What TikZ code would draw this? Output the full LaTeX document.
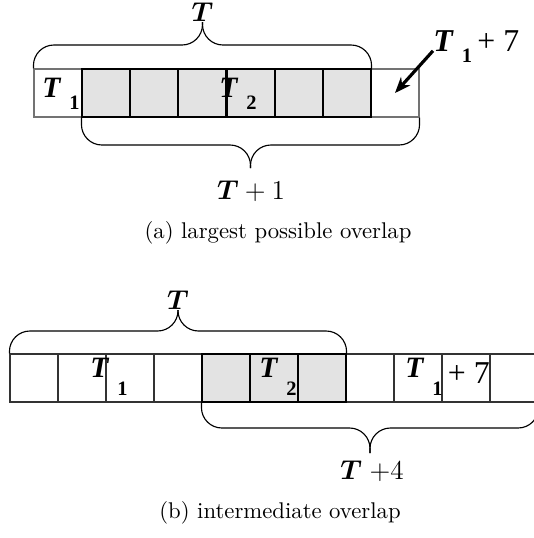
\documentclass[tikz,border=0pt]{standalone}
\usepackage{amsmath,bm}
\usepackage{fontspec}
\newfontfamily\labfont{Liberation Serif}
\usetikzlibrary{arrows.meta}

\begin{document}
\begin{tikzpicture}[
  x=0.44pt, y=-0.44pt,
  cell/.style ={draw=black!55, fill=white, minimum size=21.1pt, inner sep=0pt, line width=0.5pt},
  wcell/.style={cell, draw=black!80},
  gcell/.style={cell, draw=black, fill=black!11},
  brace/.style={draw, line width=0.5pt, rounded corners=9pt},
  arr/.style  ={-{Stealth[length=7pt,width=5.5pt]}, line width=1.4pt},
  lbl/.style  ={inner sep=0pt, anchor=base west, font=\labfont\fontsize{13}{15}\selectfont},
  blbl/.style ={inner sep=0pt, font=\fontsize{12}{14}\selectfont},
  captext/.style={inner sep=0pt, font=\normalsize}
]
\useasboundingbox (0,0) rectangle (533,538);

% =================== (a) LARGEST OVERLAP ===================
\node[cell]  (a0) at ( 58,93) {};
\node[cell]  (a7) at (395,93) {};
\node[gcell] (a1) at (106,93) {};
\node[gcell] (a2) at (154,93) {};
\node[gcell] (a3) at (202,93) {};
\node[gcell] (a4) at (251,93) {};
\node[gcell] (a5) at (299,93) {};
\node[gcell] (a6) at (347,93) {};

\node[lbl] (t1a) at ( 42,97) {\textbf{\textit{T}}\kern3.5pt\raisebox{-5.5pt}{\fontsize{9}{10}\selectfont\bfseries 1}};
\node[lbl] (t2a) at (219,97) {\textbf{\textit{T}}\kern3.5pt\raisebox{-5.5pt}{\fontsize{9}{10}\selectfont\bfseries 2}};
\node[lbl, font=\labfont\fontsize{14}{16}\selectfont] (t7a) at (433,51) {\textbf{\textit{T}}\kern3.5pt\raisebox{-5pt}{\fontsize{9}{10}\selectfont\bfseries 1}\,+ 7};

% arrow into the last cell
\draw[arr] ([yshift=-2pt]t7a.west) -- (a7.center);

% braces
\coordinate (ta) at (202.5,22);
\draw[brace] (a0.north west) |- (202.5,45) -- (ta);
\draw[brace] (a6.north east) |- (202.5,45) -- (ta);
\node[blbl, above=0pt] (bTa) at (ta) {$\bm{T}$};

\coordinate (tb) at (250.5,168);
\draw[brace] (a1.south west) |- (250.5,145) -- (tb);
\draw[brace] (a7.south east) |- (250.5,145) -- (tb);
\node[blbl] (bT1) at (251,191) {$\bm{T}+1$};

\node[captext] (capa) at (278,233) {(a) largest possible overlap};

% =================== (b) INTERMEDIATE OVERLAP ===================
\node[wcell] (b0)  at ( 34,378) {};
\node[wcell] (b1)  at ( 82,378) {};
\node[wcell] (b2)  at (130,378) {};
\node[wcell] (b3)  at (178,378) {};
\node[wcell] (b7)  at (370,378) {};
\node[wcell] (b8)  at (418,378) {};
\node[wcell] (b9)  at (466,378) {};
\node[wcell] (b10) at (514,378) {};
\node[gcell] (b4)  at (226,378) {};
\node[gcell] (b5)  at (274,378) {};
\node[gcell] (b6)  at (322,378) {};

\node[lbl] (t1b) at ( 90,377) {\textbf{\textit{T}}\kern3.5pt\raisebox{-8.2pt}{\fontsize{9}{10}\selectfont\bfseries 1}};
\node[lbl] (t2b) at (259,377) {\textbf{\textit{T}}\kern3.5pt\raisebox{-8.2pt}{\fontsize{9}{10}\selectfont\bfseries 2}};
\node[lbl] (t7b) at (405,377) {\textbf{\textit{T}}\kern3.5pt\raisebox{-8.2pt}{\fontsize{9}{10}\selectfont\bfseries 1}\raisebox{-3pt}{\fontsize{14}{16}\selectfont\,+ 7}};

% braces
\coordinate (tc) at (178,310);
\draw[brace] (b0.north west) |- (178,331) -- (tc);
\draw[brace] (b6.north east) |- (178,331) -- (tc);
\node[blbl, above=0pt] (bTb) at (tc) {$\bm{T}$};

\coordinate (td) at (370,453);
\draw[brace] (b4.south west)  |- (370,428) -- (td);
\draw[brace] (b10.south east) |- (370,428) -- (td);
\node[blbl] (bT4) at (372,471) {$\bm{T}\;{+}4$};

\node[captext] (capb) at (280,513) {(b) intermediate overlap};

\end{tikzpicture}
\end{document}
